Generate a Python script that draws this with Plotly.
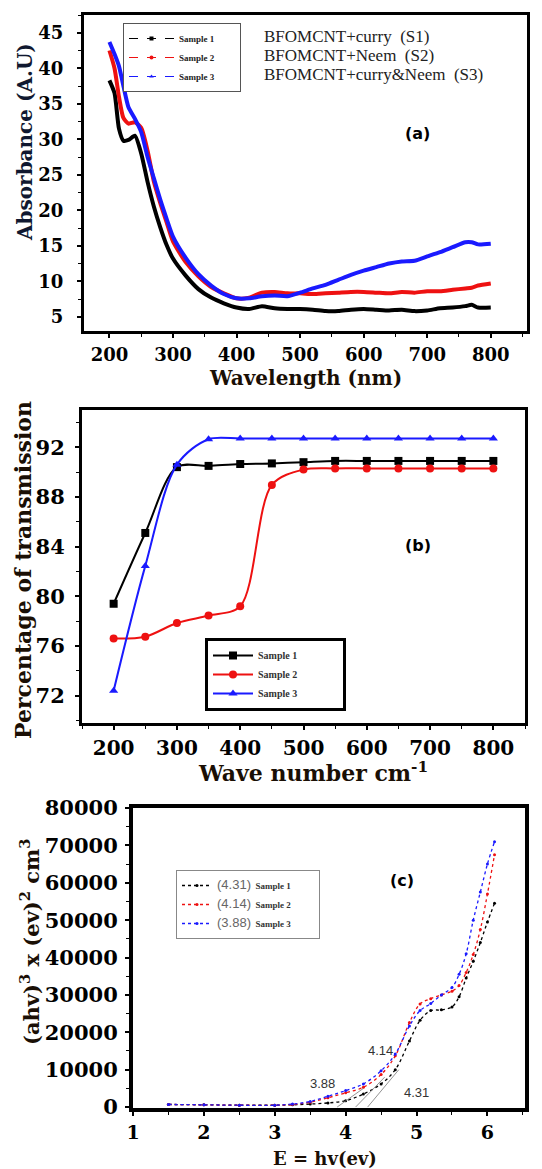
import plotly.graph_objects as go

# ---------------- Panel (a): UV-Vis absorbance ----------------
wl_a = [200, 208, 215, 222, 230, 240, 250, 260, 270, 280, 290, 300, 320, 340, 360, 380,
        400, 420, 440, 460, 480, 500, 520, 540, 560, 580, 600, 620, 640, 660, 680, 700,
        720, 740, 760, 770, 780, 800]
abs_s1 = [38.3, 36.5, 31.5, 29.8, 29.9, 30.5, 28.0, 24.0, 20.5, 17.6, 15.1, 13.2, 10.8, 8.9, 7.7, 6.9,
          6.3, 6.1, 6.5, 6.2, 6.1, 6.1, 6.0, 5.8, 5.8, 6.0, 6.1, 6.0, 5.9, 6.0, 5.8, 5.9,
          6.2, 6.3, 6.5, 6.7, 6.3, 6.3]
abs_s2 = [42.5, 40.0, 36.0, 33.0, 32.2, 32.4, 31.6, 28.4, 24.0, 21.0, 18.3, 15.6, 12.7, 10.7, 9.2, 8.3,
          7.6, 7.7, 8.4, 8.5, 8.3, 8.3, 8.2, 8.3, 8.4, 8.5, 8.5, 8.4, 8.3, 8.5, 8.4, 8.6,
          8.6, 8.8, 9.0, 9.1, 9.4, 9.7]
abs_s3 = [43.7, 42.0, 40.3, 37.5, 34.5, 32.9, 31.0, 27.5, 24.5, 21.5, 18.8, 16.3, 13.3, 11.0, 9.4, 8.2,
          7.6, 7.6, 7.9, 8.0, 7.9, 8.4, 9.0, 9.5, 10.2, 10.9, 11.5, 12.0, 12.5, 12.8, 12.9, 13.5,
          14.1, 14.8, 15.5, 15.5, 15.2, 15.3]
legend_a_texts = ["BFOMCNT+curry  (S1)", "BFOMCNT+Neem  (S2)", "BFOMCNT+curry&amp;Neem  (S3)"]

# ---------------- Panel (b): transmission ----------------
wn_b = [200, 250, 300, 350, 400, 450, 500, 550, 600, 650, 700, 750, 800]
tr_s1 = [79.4, 85.1, 90.4, 90.5, 90.65, 90.7, 90.8, 90.9, 90.9, 90.9, 90.9, 90.9, 90.9]
tr_s2 = [76.6, 76.75, 77.85, 78.45, 79.2, 88.97, 90.2, 90.3, 90.3, 90.3, 90.3, 90.3, 90.3]
tr_s3 = [72.4, 82.45, 90.6, 92.65, 92.7, 92.7, 92.7, 92.7, 92.7, 92.7, 92.7, 92.7, 92.7]

# ---------------- Panel (c): Tauc plot ----------------
e_c = [1.5, 2.0, 2.5, 3.0, 3.25, 3.5, 3.75, 4.0, 4.25, 4.5, 4.7, 4.9, 5.05, 5.2, 5.35, 5.5,
       5.6, 5.7, 5.8, 5.9, 6.0, 6.1]
tauc_s1 = [700, 600, 500, 500, 600, 800, 1100, 1700, 3500, 6200, 10000, 17700, 23200, 25800, 26000, 26800,
           29500, 34500, 39000, 44000, 49500, 54500]
tauc_s2 = [700, 600, 500, 500, 700, 1300, 2500, 3800, 5300, 8700, 13700, 22600, 27600, 29000, 30000, 31000,
           32500, 36000, 40800, 47500, 57000, 67500]
tauc_s3 = [700, 600, 500, 500, 800, 1500, 2900, 4400, 6200, 9700, 14200, 21700, 25800, 27700, 30000, 32000,
           35500, 41000, 50000, 57500, 65000, 71000]
band_gaps = [4.31, 4.14, 3.88]
tangent_end_e = [4.75, 4.55, 4.25]
tangent_end_v = [10000, 8000, 5000]
gap_label_e = [5.0, 4.49, 3.67]
gap_label_v = [3800, 15200, 6400]
gap_labels = ["4.31", "4.14", "3.88"]

names = ["Sample 1", "Sample 2", "Sample 3"]
colors = ["#000000", "#ee1111", "#1a1aff"]
SERIF = "Liberation Serif"
WIDE = "DejaVu Serif"
W, H = 542, 1169
PAD = "&#160;"


def px(x):
    return x / W


def py(y):
    return 1 - y / H


fig = go.Figure()

# ---- panel a traces
for ys, c in zip([abs_s1, abs_s2, abs_s3], colors):
    fig.add_trace(go.Scatter(x=wl_a, y=ys, mode="lines", line=dict(color=c, width=4, shape="spline", smoothing=0.6),
                             xaxis="x", yaxis="y", showlegend=False))
syms = ["square", "circle", "triangle-up"]
for n, c, s in zip(names, colors, syms):
    fig.add_trace(go.Scatter(x=[None], y=[None], mode="lines+markers", name="<b>%s</b>" % n + PAD * 9,
                             line=dict(color=c, width=1, dash="dash"), marker=dict(color=c, size=4, symbol=s),
                             xaxis="x", yaxis="y", legend="legend"))

# ---- panel b traces
for ys, n, c, s in zip([tr_s1, tr_s2, tr_s3], names, colors, syms):
    fig.add_trace(go.Scatter(x=wn_b, y=ys, mode="lines+markers", name="<b>%s</b>" % n + PAD * 16,
                             line=dict(color=c, width=2, shape="spline", smoothing=0.9),
                             marker=dict(color=c, size=8, symbol=s),
                             xaxis="x2", yaxis="y2", legend="legend2"))

# ---- panel c traces
for ys, n, g, c in zip([tauc_s1, tauc_s2, tauc_s3], names, gap_labels, colors):
    fig.add_trace(go.Scatter(x=e_c, y=ys, mode="lines+markers",
                             name="<span style='color:#666;font-family:Liberation Sans;font-size:13px;font-weight:normal'>(%s)</span>  <b>%s</b>" % (g, n) + PAD * 10,
                             line=dict(color=c, width=1.3, shape="spline", dash="dot"),
                             marker=dict(color=c, size=3),
                             xaxis="x3", yaxis="y3", legend="legend3"))
for g, te, tv in zip(band_gaps, tangent_end_e, tangent_end_v):
    fig.add_trace(go.Scatter(x=[g, te], y=[0, tv], mode="lines", line=dict(color="#777", width=0.8),
                             xaxis="x3", yaxis="y3", showlegend=False))
for le, lv, lt in zip(gap_label_e, gap_label_v, gap_labels):
    fig.add_annotation(x=le, y=lv, xref="x3", yref="y3", text=lt, showarrow=False, xanchor="center", yanchor="middle",
                       font=dict(family="Liberation Sans", size=13, color="#333"))


def tf(s):
    return dict(family=WIDE, size=s, color="#000", weight="bold")


common = dict(showline=True, linecolor="#000", mirror=True, ticks="outside", tickcolor="#000", tickwidth=1.5,
              showgrid=False, zeroline=False, automargin=False, ticklen=4)


def minor(d):
    return dict(dtick=d, ticks="outside", ticklen=3, tickcolor="#000", tickwidth=1)


fig.update_layout(
    width=W, height=H, margin=dict(l=0, r=0, t=0, b=0),
    paper_bgcolor="white", plot_bgcolor="white",
    xaxis=dict(domain=[px(84), px(527)], anchor="y", range=[160, 857], dtick=100, tick0=0, linewidth=3,
               minor=minor(50), tickfont=tf(18), ticklabelstandoff=1, **common),
    yaxis=dict(domain=[py(331), py(15)], anchor="x", range=[3.0, 47.5], dtick=5, tick0=0, linewidth=3,
               minor=minor(2.5), tickfont=tf(18), ticklabelstandoff=10, **common),
    xaxis2=dict(domain=[px(82), px(525)], anchor="y2", range=[150, 850], dtick=100, tick0=0, linewidth=3,
                minor=minor(50), tickfont=tf(20), ticklabelstandoff=1, **common),
    yaxis2=dict(domain=[py(723), py(410)], anchor="x2", range=[69.8, 95], dtick=4, tick0=0, linewidth=3,
                minor=minor(2), tickfont=tf(21), ticklabelstandoff=6, **common),
    xaxis3=dict(domain=[px(133), px(525)], anchor="y3", range=[1, 6.53], dtick=1, tick0=0, linewidth=4,
                minor=minor(0.5), tickfont=tf(19), ticklabelstandoff=0, **common),
    yaxis3=dict(domain=[py(1108), py(808)], anchor="x3", range=[-250, 80000], dtick=10000, tick0=0, linewidth=4,
                tickformat="d", minor=minor(5000), tickfont=tf(21), ticklabelstandoff=3, **common),
    legend=dict(x=px(123), y=py(23), xanchor="left", yanchor="top", bgcolor="white", bordercolor="#555", borderwidth=1,
                font=dict(family=SERIF, size=9, color="#222"), tracegroupgap=0, itemwidth=45),
    legend2=dict(x=px(205), y=py(638), xanchor="left", yanchor="top", bgcolor="white", bordercolor="#000", borderwidth=3,
                 font=dict(family=SERIF, size=10, color="#333"), tracegroupgap=0, itemwidth=40),
    legend3=dict(x=px(176), y=py(870), xanchor="left", yanchor="top", bgcolor="white", bordercolor="#888", borderwidth=1,
                 font=dict(family=SERIF, size=9, color="#333"), tracegroupgap=0, itemwidth=30),
)

for i, t in enumerate(legend_a_texts):
    fig.add_annotation(x=px(262), y=py(37 + 18.5 * i), xref="paper", yref="paper", xanchor="left", yanchor="middle",
                       text=t, showarrow=False, font=dict(family=SERIF, size=17, color="#222"))

for lab, lx, ly in [("(a)", 417, 134), ("(b)", 418, 545), ("(c)", 402, 880)]:
    fig.add_annotation(x=px(lx), y=py(ly), xref="paper", yref="paper", text="<b>%s</b>" % lab,
                       xanchor="center", yanchor="middle",
                       showarrow=False, font=dict(family="DejaVu Sans", size=16, color="#000"))

# axis titles
titles = [
    ("<b>Absorbance (A.U)</b>", 25, 142, 20, -90, "#101830"),
    ("<b>Wavelength (nm)</b>", 305, 378, 20, 0, "#1a0f05"),
    ("<b>Percentage of transmission</b>", 23, 570, 22, -90, "#1a0f05"),
    ("<b>Wave number cm<sup>-1</sup></b>", 313, 772, 22, 0, "#1a0f05"),
    ("<b>(ahv)<sup>3</sup> x (ev)<sup>2</sup> cm<sup>3</sup></b>", 30, 942, 21, -90, "#1a0f05"),
    ("<b>E = hv(ev)</b>", 325, 1158, 18, 0, "#1a0f05"),
]
for t, tx, ty, s, ang, col in titles:
    fig.add_annotation(x=px(tx), y=py(ty), xref="paper", yref="paper", text=t, showarrow=False, textangle=ang,
                       xanchor="center", yanchor="middle", font=dict(family=WIDE, size=s, color=col))

fig.write_html("out.html", config={"displayModeBar": False},
               post_script="document.body.style.margin='0';")
